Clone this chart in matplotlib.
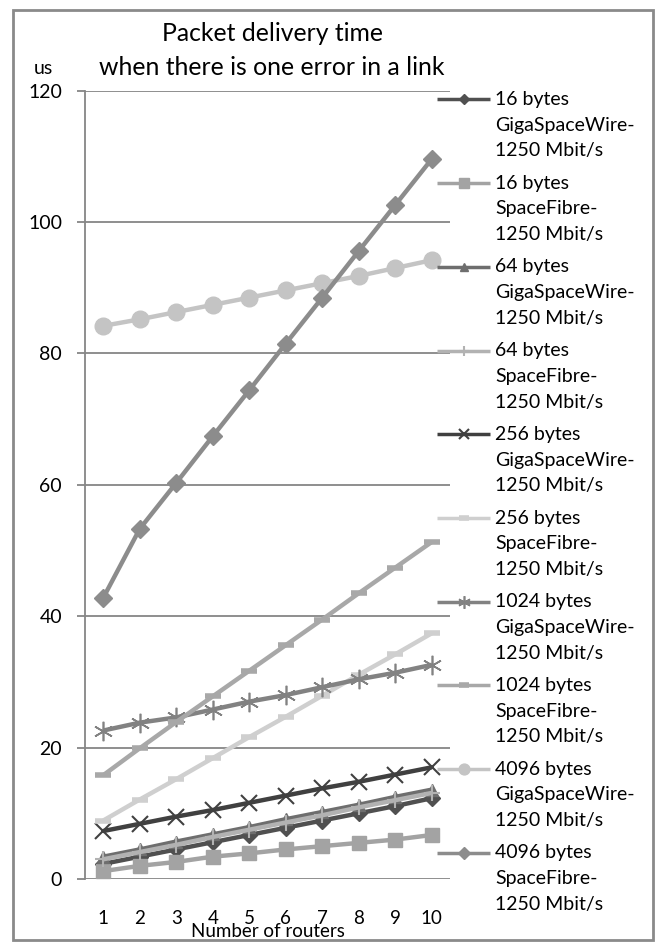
import numpy as np
import matplotlib
matplotlib.use('Agg')
from matplotlib import pyplot as plt
from matplotlib.patches import Rectangle
from matplotlib.legend_handler import HandlerLine2D

plt.rcParams['font.family'] = ['Lato', 'DejaVu Sans']

routers = [1, 2, 3, 4, 5, 6, 7, 8, 9, 10]

gsw_16 = [2.3, 3.4, 4.5, 5.6, 6.7, 7.8, 8.9, 10.0, 11.1, 12.3]
sf_16 = [1.2, 2.0, 2.6, 3.4, 3.9, 4.5, 5.0, 5.5, 6.0, 6.7]
gsw_64 = [3.4, 4.5, 5.7, 6.8, 7.9, 9.1, 10.2, 11.3, 12.5, 13.6]
sf_64 = [3.0, 4.1, 5.2, 6.4, 7.5, 8.6, 9.7, 10.9, 12.0, 13.1]
gsw_256 = [7.3, 8.4, 9.5, 10.5, 11.6, 12.7, 13.8, 14.8, 15.9, 17.0]
sf_256 = [8.9, 12.1, 15.2, 18.4, 21.6, 24.7, 27.9, 31.1, 34.2, 37.4]
gsw_1024 = [22.6, 23.8, 24.6, 25.8, 27.0, 28.0, 29.2, 30.4, 31.4, 32.6]
sf_1024 = [15.8, 19.9, 23.9, 27.8, 31.7, 35.6, 39.5, 43.5, 47.4, 51.3]
gsw_4096 = [84.2, 85.2, 86.3, 87.4, 88.5, 89.6, 90.7, 91.8, 93.0, 94.2]
sf_4096 = [42.8, 53.3, 60.3, 67.4, 74.4, 81.5, 88.5, 95.6, 102.6, 109.6]

labels = [
    '16 bytes\nGigaSpaceWire-\n1250 Mbit/s',
    '16 bytes\nSpaceFibre-\n1250 Mbit/s',
    '64 bytes\nGigaSpaceWire-\n1250 Mbit/s',
    '64 bytes\nSpaceFibre-\n1250 Mbit/s',
    '256 bytes\nGigaSpaceWire-\n1250 Mbit/s',
    '256 bytes\nSpaceFibre-\n1250 Mbit/s',
    '1024 bytes\nGigaSpaceWire-\n1250 Mbit/s',
    '1024 bytes\nSpaceFibre-\n1250 Mbit/s',
    '4096 bytes\nGigaSpaceWire-\n1250 Mbit/s',
    '4096 bytes\nSpaceFibre-\n1250 Mbit/s',
]
series = [gsw_16, sf_16, gsw_64, sf_64, gsw_256, sf_256,
          gsw_1024, sf_1024, gsw_4096, sf_4096]

# (color, marker, markersize, markeredgewidth)
styles = [
    ('#505050', 'D', 8, 1),
    ('#a3a3a3', 's', 10, 1),
    ('#6e6e6e', '^', 9, 1),
    ('#b2b2b2', '+', 12, 1.5),
    ('#404040', 'x', 12, 1.5),
    ('#cfcfcf', '_', 12, 4),
    ('#828282', (6, 2, 0), 14, 1.2),
    ('#a8a8a8', '_', 12, 4),
    ('#c4c4c4', 'o', 12, 1),
    ('#8c8c8c', 'D', 9, 1),
]

LEG_FS = 14
LINE_PITCH = 26 / 100 * 72   # pixels between label lines, in points


class FirstLineHandler(HandlerLine2D):
    """Legend handle drawn next to the first line of a multi-line label"""
    def create_artists(self, legend, orig_handle, xdescent, ydescent,
                       width, height, fontsize, trans):
        arts = super().create_artists(legend, orig_handle, xdescent, ydescent,
                                      width, height, fontsize, trans)
        for a in arts:
            a.set_ydata(np.asarray(a.get_ydata()) + LINE_PITCH)
        return arts


fig = plt.figure(figsize=(6.56, 9.42), dpi=100)
ax = fig.add_axes([85 / 656, 1 - 879 / 942, 365 / 656, 788.3 / 942])

lines = []
for vals, lab, (c, m, ms, mew) in zip(series, labels, styles):
    ln, = ax.plot(routers, vals, color=c, lw=3.2, marker=m, ms=ms, mew=mew,
                  mec=c, mfc=c, label=lab, solid_capstyle='butt')
    lines.append(ln)

ax.set_xlim(0.5, 10.5)
ax.set_ylim(0, 120)
ax.set_yticks(range(0, 121, 20))
ax.set_xticks(routers)
ax.yaxis.grid(True, color='#868686', lw=1.3)
ax.set_axisbelow(True)
for s in ['top', 'right', 'bottom']:
    ax.spines[s].set_visible(False)
ax.spines['left'].set_color('#868686')
ax.spines['left'].set_linewidth(1.3)
ax.tick_params(axis='y', length=6, color='#868686', width=1.3, labelsize=14, pad=10.5)
ax.tick_params(axis='x', length=0, labelsize=13.5, pad=22.5)
ax.set_xlabel('Number of routers', fontsize=13.5, labelpad=-3)

fig.text(43 / 656, 1 - 68 / 942, 'us', fontsize=14, ha='center', va='center')
fig.text(272 / 656, 1 - 50.5 / 942, 'Packet delivery time\nwhen there is one error in a link',
         fontsize=17.8, ha='center', va='center', linespacing=1.62)

leg = ax.legend(handles=lines, loc='upper left',
                bbox_to_anchor=(437 / 656, 1 - 91 / 942),
                bbox_transform=fig.transFigure, frameon=False, fontsize=LEG_FS,
                handlelength=2.75, handletextpad=0.25, labelspacing=0.79,
                borderaxespad=0, borderpad=0,
                handler_map={l: FirstLineHandler() for l in lines})
for t in leg.get_texts():
    t.set_linespacing(1.62)
for h in leg.legend_handles:
    h.set_linewidth(2.5)
    h.set_markersize(h.get_markersize() * 0.65)

fig.patches.append(Rectangle((13 / 656, 1 - 940 / 942), 640 / 656, 930 / 942,
                             transform=fig.transFigure, fill=False,
                             edgecolor='#8a8a8a', lw=2))

fig.savefig('out.png', dpi=100)
